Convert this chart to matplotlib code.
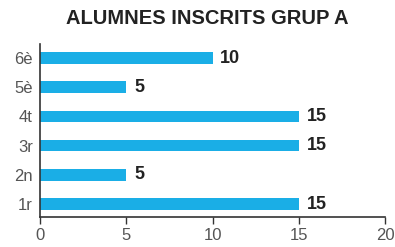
import matplotlib
matplotlib.use("Agg")
import matplotlib.pyplot as plt

categories = ["1r", "2n", "3r", "4t", "5è", "6è"]
values = [15, 5, 15, 15, 5, 10]
xticks = [0, 5, 10, 15, 20]
title = "ALUMNES INSCRITS GRUP A"

plt.rcParams['font.family'] = ['Liberation Sans', 'DejaVu Sans']

fig = plt.figure(figsize=(3.95, 2.47), dpi=100)
ax = fig.add_axes([0.101, 0.1215, 0.874, 0.70])

ypos = list(range(len(categories)))
ax.barh(ypos, values, height=0.4, color="#1aaee6", zorder=2)
for y, v in zip(ypos, values):
    ax.text(v + 0.45, y, str(v), va="center", ha="left", fontsize=13,
            fontweight="bold", color="#222222")

ax.set_xlim(0, 20)
ax.set_ylim(-0.445, 5.48)
ax.set_xticks(xticks)
ax.set_xticklabels([str(t) for t in xticks])
ax.set_yticks(ypos)
ax.set_yticklabels(categories)

for s in ["top", "right"]:
    ax.spines[s].set_visible(False)
for s in ["left", "bottom"]:
    ax.spines[s].set_color("#333333")
    ax.spines[s].set_linewidth(1.2)

ax.tick_params(axis="x", direction="out", length=5, width=1, colors="#333333",
               labelsize=12, labelcolor="#555555", pad=3)
ax.tick_params(axis="y", length=0, labelsize=12, labelcolor="#555555", pad=5)

fig.text(0.524, 0.925, title, ha="center", va="center", fontsize=14.5,
         fontweight="bold", color="#222222")

fig.savefig("out.png", dpi=100)
